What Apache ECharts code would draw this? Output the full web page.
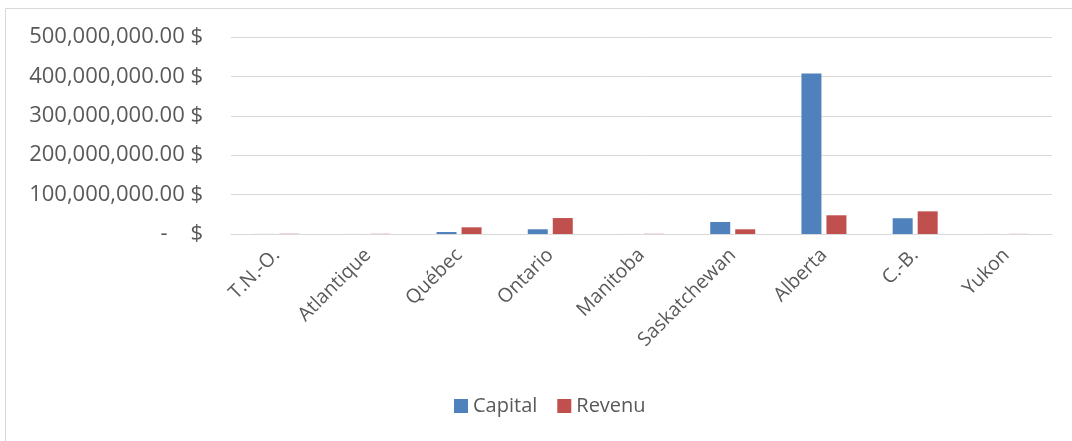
<!DOCTYPE html>
<html><head><meta charset="utf-8">
<script src="https://cdn.jsdelivr.net/npm/echarts@6/dist/echarts.min.js"></script>
<style>html,body{margin:0;padding:0;background:#fff}#c{width:1072px;height:441px}</style>
</head><body><div id="c"></div>
<script>
const categories = ['T.N.-O.', 'Atlantique', 'Québec', 'Ontario', 'Manitoba', 'Saskatchewan', 'Alberta', 'C.-B.', 'Yukon'];
const capital = [200000, 100000, 5000000, 12000000, 100000, 30500000, 407500000, 40000000, 100000];
const revenu = [600000, 500000, 17000000, 40500000, 500000, 12000000, 47500000, 57500000, 300000];
const yTicks = [0, 100000000, 200000000, 300000000, 400000000, 500000000];

function fmt(v) {
  if (v === 0) return '-    $';
  return v.toLocaleString('en-US', {minimumFractionDigits: 2, maximumFractionDigits: 2}) + ' $';
}
const chart = echarts.init(document.getElementById('c'));
chart.setOption({
  animation: false,
  textStyle: {fontFamily: 'Open Sans'},
  graphic: [
    {type: 'line', shape: {x1: 5.5, y1: 8.5, x2: 1072, y2: 8.5}, style: {stroke: '#D9D9D9', lineWidth: 1}},
    {type: 'line', shape: {x1: 5.5, y1: 8.5, x2: 5.5, y2: 441}, style: {stroke: '#D9D9D9', lineWidth: 1}}
  ],
  grid: {left: 231, right: 20, top: 37, bottom: 207},
  legend: {
    bottom: 20, left: 449, itemWidth: 14, itemHeight: 14, itemGap: 20,
    icon: 'rect',
    textStyle: {fontSize: 20, color: '#595959', fontFamily: 'Open Sans'},
    data: ['Capital', 'Revenu']
  },
  xAxis: {
    type: 'category', data: categories,
    axisLine: {lineStyle: {color: '#D9D9D9', width: 1}},
    axisTick: {show: false},
    axisLabel: {rotate: 45, interval: 0, margin: 18, fontSize: 19.5, color: '#595959', fontFamily: 'Open Sans'}
  },
  yAxis: {
    type: 'value', min: yTicks[0], max: yTicks[yTicks.length - 1], interval: 100000000,
    axisLine: {show: false}, axisTick: {show: false},
    splitLine: {lineStyle: {color: '#D9D9D9', width: 1}},
    axisLabel: {formatter: fmt, margin: 28, fontSize: 22, color: '#595959', fontFamily: 'Open Sans'}
  },
  series: [
    {name: 'Capital', type: 'bar', data: capital, barWidth: 20, barGap: '25%',
     itemStyle: {color: '#4F81BD'}},
    {name: 'Revenu', type: 'bar', data: revenu, barWidth: 20,
     itemStyle: {color: '#C0504D'}}
  ]
});
</script></body></html>
